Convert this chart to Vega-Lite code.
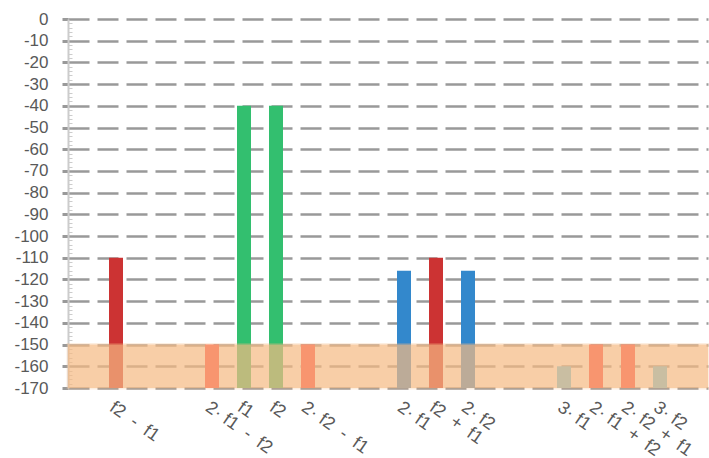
{
  "$schema": "https://vega.github.io/schema/vega-lite/v6.json",
  "width": 640,
  "height": 369,
  "autosize": "none",
  "padding": {"left": 68, "top": 19, "right": 1, "bottom": 70},
  "background": "white",
  "config": {"view": {"stroke": null}, "font": "Liberation Sans"},
  "datasets": {
    "bars": [
      {"freq": 1, "label": "f2 - f1", "level": -110, "kind": "IM2"},
      {"freq": 4, "label": "2· f1 - f2", "level": -150, "kind": "IM3"},
      {"freq": 5, "label": "f1", "level": -40, "kind": "Fundamental"},
      {"freq": 6, "label": "f2", "level": -40, "kind": "Fundamental"},
      {"freq": 7, "label": "2· f2 - f1", "level": -150, "kind": "IM3"},
      {"freq": 10, "label": "2· f1", "level": -116, "kind": "H2"},
      {"freq": 11, "label": "f2 + f1", "level": -110, "kind": "IM2"},
      {"freq": 12, "label": "2· f2", "level": -116, "kind": "H2"},
      {"freq": 15, "label": "3· f1", "level": -160, "kind": "H3"},
      {"freq": 16, "label": "2· f1 + f2", "level": -150, "kind": "IM3"},
      {"freq": 17, "label": "2· f2 + f1", "level": -150, "kind": "IM3"},
      {"freq": 18, "label": "3· f2", "level": -160, "kind": "H3"}
    ],
    "band": [{"lo": -170, "hi": -150, "start": -0.5, "end": 19.5}]
  },
  "layer": [
    {
      "data": {"name": "bars"},
      "mark": {"type": "bar", "width": 14},
      "encoding": {
        "x": {
          "field": "freq",
          "type": "quantitative",
          "scale": {"domain": [-0.5, 19.5], "nice": false, "zero": false, "padding": 0},
          "axis": {
            "title": null,
            "values": [1, 4, 5, 6, 7, 10, 11, 12, 15, 16, 17, 18],
            "tickCount": 100,
            "labelExpr": "({'1':'f2\u00a0 -\u00a0 f1','4':'2·\u00a0f1\u00a0 -\u00a0 f2','5':'f1','6':'f2','7':'2·\u00a0f2\u00a0 -\u00a0 f1','10':'2·\u00a0f1','11':'f2\u00a0 +\u00a0 f1','12':'2·\u00a0f2','15':'3·\u00a0f1','16':'2·\u00a0f1\u00a0 +\u00a0 f2','17':'2·\u00a0f2\u00a0 +\u00a0 f1','18':'3·\u00a0f2'})[datum.value + '']",
            "labelAngle": 35,
            "labelAlign": "left",
            "labelBaseline": "top",
            "labelFontSize": 18,
            "labelColor": "#595959",
            "labelPadding": 10,
            "labelOverlap": false,
            "labelBound": false,
            "labelFlush": false,
            "ticks": false,
            "domain": false,
            "grid": false
          }
        },
        "y": {
          "field": "level",
          "type": "quantitative",
          "scale": {"domain": [-170, 0], "nice": false, "zero": false, "padding": 0},
          "axis": {
            "title": null,
            "values": [-170,-168,-166,-164,-162,-160,-158,-156,-154,-152,-150,-148,-146,-144,-142,-140,-138,-136,-134,-132,-130,-128,-126,-124,-122,-120,-118,-116,-114,-112,-110,-108,-106,-104,-102,-100,-98,-96,-94,-92,-90,-88,-86,-84,-82,-80,-78,-76,-74,-72,-70,-68,-66,-64,-62,-60,-58,-56,-54,-52,-50,-48,-46,-44,-42,-40,-38,-36,-34,-32,-30,-28,-26,-24,-22,-20,-18,-16,-14,-12,-10,-8,-6,-4,-2,0],
            "tickCount": 200,
            "labelExpr": "datum.value % 10 === 0 ? ((datum.value < 0 ? '-' : '') + abs(datum.value)) : ''",
            "labelFontSize": 17,
            "labelColor": "#595959",
            "labelPadding": 14,
            "labelOverlap": false,
            "labelBound": false,
            "labelFlush": false,
            "domain": true,
            "domainColor": "#cccccc",
            "domainWidth": 2,
            "tickSize": {"condition": {"test": "datum.value % 10 === 0", "value": 6}, "value": -4},
            "tickColor": {"condition": {"test": "datum.value % 10 === 0", "value": "#999999"}, "value": "#cccccc"},
            "tickWidth": {"condition": {"test": "datum.value % 10 === 0", "value": 3}, "value": 1},
            "grid": true,
            "gridColor": "#999999",
            "gridWidth": 2.5,
            "gridDash": [21, 8],
            "gridOpacity": {"condition": {"test": "datum.value % 10 === 0", "value": 1}, "value": 0}
          }
        },
        "y2": {"datum": -170},
        "color": {
          "field": "kind",
          "type": "nominal",
          "scale": {
            "domain": ["Fundamental", "IM2", "H2", "IM3", "H3"],
            "range": ["#33bf6f", "#cc3333", "#3388cc", "#ff4040", "#60c8ee"]
          },
          "legend": null
        }
      }
    },
    {
      "data": {"name": "band"},
      "mark": {"type": "rect", "fill": "#f6ba83", "opacity": 0.7, "stroke": "#f6ba83", "strokeWidth": 3, "strokeOpacity": 0.35},
      "encoding": {
        "x": {"field": "start", "type": "quantitative"},
        "x2": {"field": "end"},
        "y": {"field": "hi", "type": "quantitative"},
        "y2": {"field": "lo"}
      }
    }
  ]
}
